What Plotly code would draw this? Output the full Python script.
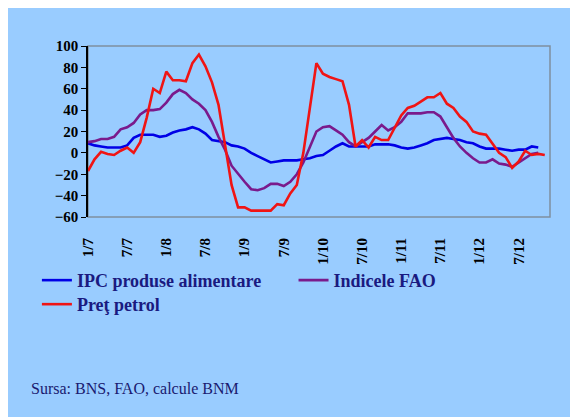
import plotly.graph_objects as go

# Monthly categories Jan 2007 .. Dec 2012 (label format m/yy without leading zero)
months = [f"{m}/{y}" for y in range(7, 13) for m in range(1, 13)]
tick_labels = ["1/7", "7/7", "1/8", "7/8", "1/9", "7/9",
               "1/10", "7/10", "1/11", "7/11", "1/12", "7/12"]

ipc_alimentare = [9, 7, 6, 5, 5, 5, 7, 14, 17, 17, 17, 15, 16, 19, 21, 22, 24, 22,
                  18, 12, 11, 10, 7, 6, 4, 0, -3, -6, -9, -8, -7, -7, -7, -6, -5, -3,
                  -2, 2, 6, 9, 6, 6, 6, 6, 8, 8, 8, 7, 5, 4, 5, 7, 9, 12,
                  13, 14, 13, 12, 10, 9, 6, 4, 4, 4, 3, 2, 3, 3, 6, 5]

indice_fao = [10, 11, 13, 13, 15, 22, 24, 28, 36, 40, 40, 41, 47, 55, 59, 56, 50, 46,
              40, 29, 15, 3, -12, -20, -27, -34, -35, -33, -29, -29, -31, -27, -20, -9, 6, 20,
              24, 25, 21, 17, 10, 6, 10, 14, 20, 26, 21, 24, 29, 37, 37, 37, 38, 38,
              34, 24, 14, 6, 0, -5, -9, -9, -6, -10, -11, -13, -9, -5, -1, 0]

pret_petrol = [-17, -6, 1, -1, -2, 2, 5, 0, 10, 33, 60, 56, 76, 68, 68, 67, 84, 92,
               81, 66, 45, 8, -30, -51, -51, -54, -54, -54, -54, -48, -49, -38, -30, 0, 40, 84,
               74, 71, 69, 67, 45, 6, 12, 5, 15, 12, 12, 24, 35, 42, 44, 48, 52, 52,
               56, 46, 42, 34, 29, 20, 18, 17, 8, 0, -4, -14, -8, 2, -2, -1, -2]

series_names = ["IPC produse alimentare", "Indicele FAO", "Preţ petrol"]
series_values = [ipc_alimentare, indice_fao, pret_petrol]
series_colors = ["#0000E6", "#7A1A8C", "#F01414"]
series_legend = ["legend", "legend2", "legend3"]

BG = "#99CCFF"
serif = "Liberation Serif"
legend_font = dict(family=serif, size=18, color="#1A1A80", weight="bold")


def legend_box(x, y):
    return dict(orientation="h", xref="container", yref="container",
                x=x, y=y, xanchor="left", yanchor="top",
                bgcolor="rgba(0,0,0,0)", font=legend_font,
                itemwidth=30, tracegroupgap=0)


fig = go.Figure()
for name, vals, col, lg in zip(series_names, series_values, series_colors, series_legend):
    fig.add_trace(go.Scatter(
        x=months[:len(vals)], y=vals, name=name, mode="lines",
        line=dict(color=col, width=2.6), legend=lg,
    ))

fig.update_layout(
    width=578, height=417,
    margin=dict(l=80, r=36, t=38, b=208),
    paper_bgcolor=BG,
    plot_bgcolor=BG,
    showlegend=True,
    legend=legend_box(0.05, 0.391),
    legend2=legend_box(0.494, 0.391),
    legend3=legend_box(0.05, 0.3334),
    xaxis=dict(
        type="category", categoryorder="array", categoryarray=months,
        range=[0, 70.8],
        tickmode="array", tickvals=tick_labels, ticktext=tick_labels,
        tickangle=-90, ticks="outside", ticklen=14, tickcolor="rgba(0,0,0,0)",
        tickfont=dict(family=serif, size=15, color="black", weight="bold"),
        showgrid=False, zeroline=False, showline=False, automargin=False,
    ),
    yaxis=dict(
        range=[-60, 100], tickmode="linear", tick0=-60, dtick=20,
        ticks="outside", ticklen=5, tickcolor="black",
        showline=True, linecolor="black", linewidth=1.5,
        tickfont=dict(family=serif, size=15, color="black", weight="bold"),
        showgrid=False, zeroline=False, automargin=False,
    ),
    shapes=[
        dict(type="rect", xref="paper", yref="paper",
             x0=0, x1=1, y0=0, y1=1,
             fillcolor="rgba(0,0,0,0)", line=dict(color="#7F8FA0", width=1.5),
             layer="below"),
    ],
    annotations=[
        dict(text="Sursa: BNS, FAO, calcule BNM", xref="paper", yref="paper",
             x=-0.128, y=-1.003, xanchor="left", yanchor="middle", showarrow=False,
             font=dict(family=serif, size=16, color="#1A1A70")),
    ],
)

fig.write_html("out.html")
